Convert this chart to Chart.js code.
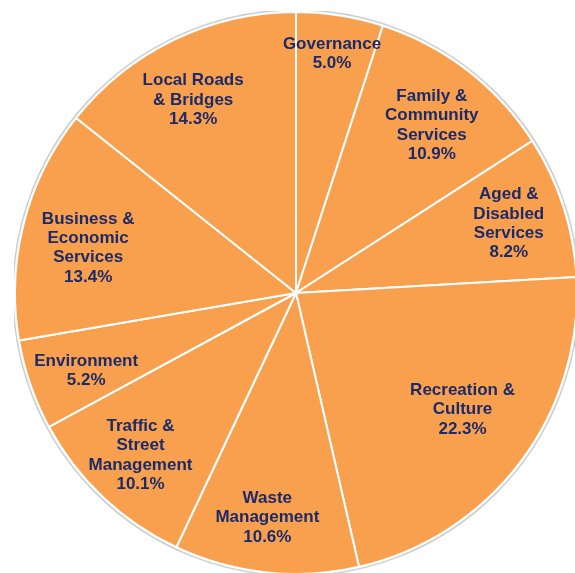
<!DOCTYPE html>
<html>
<head>
<meta charset="utf-8">
<script src="https://cdn.jsdelivr.net/npm/chart.js@4/dist/chart.umd.min.js"></script>
<style>
  html, body { margin: 0; padding: 0; background: #fff; overflow: hidden; width: 575px; height: 573px; }
  #wrap { position: absolute; left: 14px; top: 11px; width: 564px; height: 564px; }
</style>
</head>
<body>
<div id="wrap"><canvas id="pie" width="564" height="564"></canvas></div>
<script>
// categories, clockwise from 12 o'clock
const categories = [
  ["Governance"],
  ["Family &", "Community", "Services"],
  ["Aged &", "Disabled", "Services"],
  ["Recreation &", "Culture"],
  ["Waste", "Management"],
  ["Traffic &", "Street", "Management"],
  ["Environment"],
  ["Business &", "Economic", "Services"],
  ["Local Roads", "& Bridges"]
];
const shares = [5.0, 10.9, 8.2, 22.3, 10.6, 10.1, 5.2, 13.4, 14.3];

// label placement: fraction of radius along the mid angle, then a small nudge in px
const labelRadius = [0.865, 0.78, 0.80, 0.71, 0.79, 0.79, 0.79, 0.76, 0.81];
const labelNudge = [[-2, 1], [2, 6], [-1, 0], [7, -3], [-5, 4], [-3, 1], [0, 5], [-1, 8], [-4, 12]];

const sliceColor = "#F9A04F";
const textColor = "#1B2A68";

const pieLabels = {
  id: "pieLabels",
  afterDatasetsDraw(chart) {
    const ctx = chart.ctx;
    const arcs = chart.getDatasetMeta(0).data;
    const total = shares.reduce((a, b) => a + b, 0);
    ctx.save();
    // faint grey rim round the pie
    const a0 = arcs[0];
    ctx.beginPath();
    ctx.arc(a0.x, a0.y, a0.outerRadius + 2, 0, Math.PI * 2);
    ctx.strokeStyle = "rgba(170,170,170,0.6)";
    ctx.lineWidth = 1.5;
    ctx.stroke();

    ctx.font = "bold 17px 'Liberation Sans', Arial, sans-serif";
    ctx.fillStyle = textColor;
    ctx.textAlign = "center";
    ctx.textBaseline = "middle";
    const lineH = 19.3;
    arcs.forEach((arc, i) => {
      const mid = (arc.startAngle + arc.endAngle) / 2;
      const r = arc.outerRadius * labelRadius[i];
      const x = arc.x + Math.cos(mid) * r + labelNudge[i][0];
      const y = arc.y + Math.sin(mid) * r + labelNudge[i][1];
      const pct = (shares[i] / total * 100).toFixed(1) + "%";
      const lines = categories[i].concat([pct]);
      const top = y - (lines.length - 1) * lineH / 2;
      lines.forEach((t, j) => ctx.fillText(t, x, top + j * lineH));
    });
    ctx.restore();
  }
};

new Chart(document.getElementById("pie"), {
  type: "pie",
  data: {
    labels: categories,
    datasets: [{
      data: shares,
      backgroundColor: sliceColor,
      borderColor: "#ffffff",
      borderWidth: 2
    }]
  },
  options: {
    responsive: false,
    animation: false,
    events: [],
    layout: { padding: 0 },
    plugins: {
      legend: { display: false },
      tooltip: { enabled: false }
    }
  },
  plugins: [pieLabels]
});
</script>
</body>
</html>
